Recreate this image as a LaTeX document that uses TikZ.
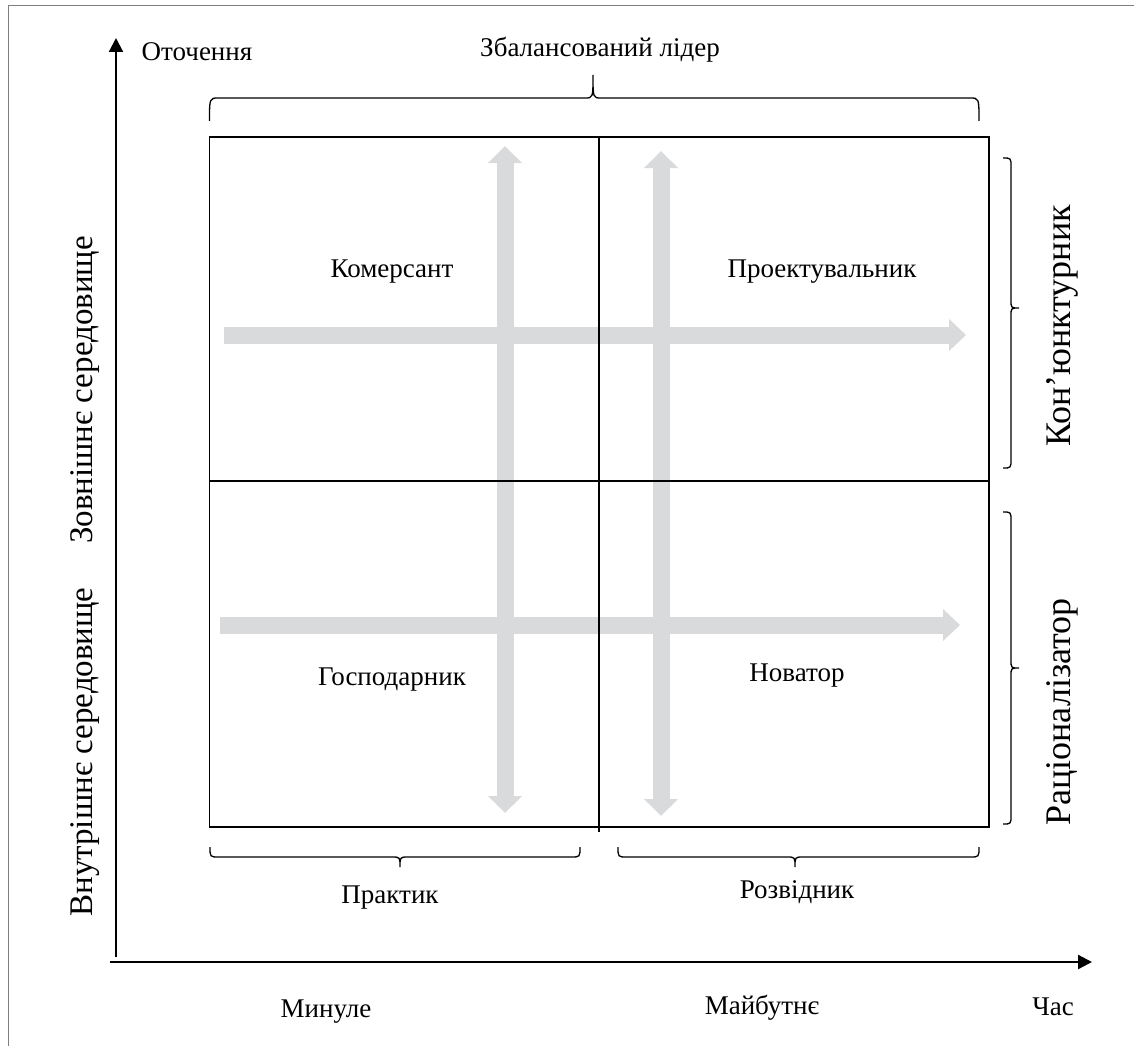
\documentclass[tikz,border=0pt]{standalone}
\usepackage{fontspec}
\setmainfont{Liberation Serif}
\usetikzlibrary{arrows.meta}
\definecolor{arrowgray}{HTML}{D9DADB}
\definecolor{framegray}{HTML}{7F7F7F}
\tikzset{
  lbl/.style={inner sep=0pt, font=\fontsize{27}{32}\selectfont},
  vlbl/.style={inner sep=0pt, rotate=90, font=\fontsize{36}{40}\selectfont},
  llbl/.style={inner sep=0pt, rotate=90, font=\fontsize{33}{38}\selectfont},
  boxline/.style={line width=1.5pt, black},
  braceline/.style={line width=1.3pt, black},
  axis/.style={line width=2.2pt, black, -{Triangle[width=14pt,length=14pt]}},
  garrow/.style={line width=17pt, arrowgray, {Triangle[width=33pt,length=17pt]}-{Triangle[width=33pt,length=17pt]}},
  garrowr/.style={line width=17pt, arrowgray, -{Triangle[width=31pt,length=17pt]}},
}
\newcommand\hbr[6]{% x1 x2 xt yend ystraight ytip
  \draw[braceline] (#1,#4) .. controls (#1,#5) .. ({#1+9},#5) -- ({#3-8},#5)
    .. controls (#3,#5) .. (#3,#6) .. controls (#3,#5) .. ({#3+8},#5)
    -- ({#2-9},#5) .. controls (#2,#5) .. (#2,#4);}
\newcommand\vbr[6]{% y1 y2 yt xend xstraight xtip
  \draw[braceline] (#4,#1) .. controls (#5,#1) .. (#5,{#1+9}) -- (#5,{#3-8})
    .. controls (#5,#3) .. (#6,#3) .. controls (#5,#3) .. (#5,{#3+8})
    -- (#5,{#2-9}) .. controls (#5,#2) .. (#4,#2);}
\begin{document}
\begin{tikzpicture}[x=1pt,y=-1pt]
\useasboundingbox (0,0) rectangle (1134,1046);
% frame
\draw[framegray, line width=1pt] (8,1046) -- (8,5.5) -- (1134,5.5);
% axes
\coordinate (o1) at (116,957);
\coordinate (ytop) at (116,38);
\coordinate (o2) at (110,962);
\coordinate (xend) at (1092,962);
\draw[axis] (o1) -- (ytop);
\draw[axis] (o2) -- (xend);
% grey arrows
\coordinate (v1a) at (505,146); \coordinate (v1b) at (505,813);
\coordinate (v2a) at (661,151); \coordinate (v2b) at (661,816);
\coordinate (h1a) at (224,335); \coordinate (h1b) at (966,335);
\coordinate (h2a) at (220,625); \coordinate (h2b) at (960,625);
\draw[garrowr] (h1a) -- (h1b);
\draw[garrowr] (h2a) -- (h2b);
\draw[garrow] (v1a) -- (v1b);
\draw[garrow] (v2a) -- (v2b);
% box
\coordinate (b1) at (209.5,137);
\coordinate (b2) at (989,827);
\draw[boxline] (b1) rectangle (b2);
\coordinate (mt) at (599,137); \coordinate (mb) at (599,832);
\coordinate (ml) at (209.5,481); \coordinate (mr) at (989,481);
\draw[boxline] (mt) -- (mb);
\draw[boxline] (ml) -- (mr);
% braces
\hbr{209.5}{979}{593}{121}{98}{75}
\hbr{210}{580}{400}{847}{857}{867}
\hbr{618}{979}{795}{847}{857}{867}
\vbr{158}{468}{308}{1003}{1011}{1019}
\vbr{512}{824}{668}{1003}{1011}{1019}
% labels
\node[lbl] (env) at (197,52) {Оточення};
\node[lbl] (bal) at (600,50) {Збалансований лідер};
\node[lbl] (kom) at (392,272) {Комерсант};
\node[lbl] (pro) at (822,272) {Проектувальник};
\node[lbl] (gos) at (392,680) {Господарник};
\node[lbl] (nov) at (797,676) {Новатор};
\node[lbl] (pra) at (390,898) {Практик};
\node[lbl] (roz) at (797,892) {Розвідник};
\node[lbl] (min) at (326,1012) {Минуле};
\node[lbl] (mai) at (762,1008) {Майбутнє};
\node[lbl] (chas) at (1053,1007) {Час};
\node[llbl] (zov) at (85,390) {Зовнішнє середовище};
\node[llbl] (vnu) at (85,752) {Внутрішнє середовище};
\node[vlbl] (kon) at (1062,326) {Кон’юнктурник};
\node[vlbl] (rac) at (1062,712) {Раціоналізатор};
\end{tikzpicture}
\end{document}
